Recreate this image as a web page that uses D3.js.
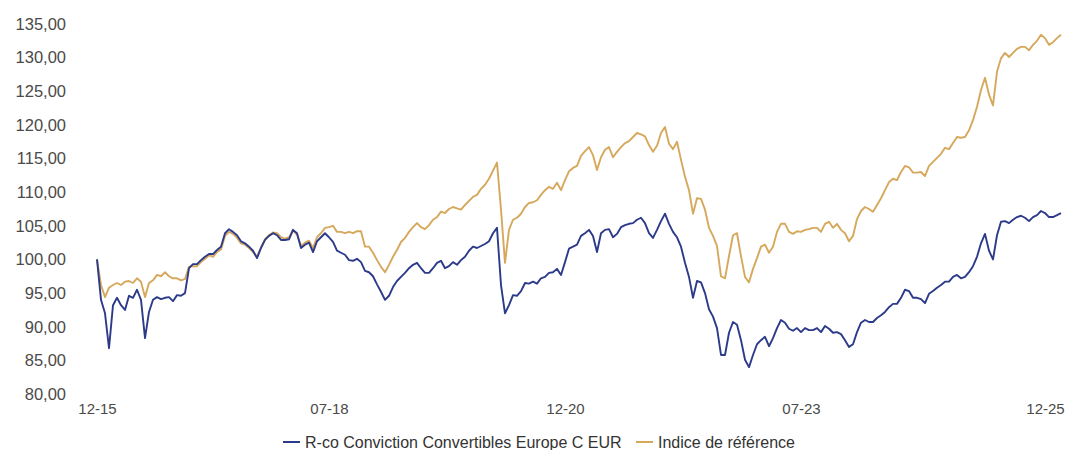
<!DOCTYPE html>
<html>
<head>
<meta charset="utf-8">
<script src="https://cdn.jsdelivr.net/npm/d3@7/dist/d3.min.js"></script>
<style>
  html, body { margin: 0; padding: 0; background: #ffffff; }
  svg { display: block; }
  text { font-family: "Liberation Sans", Arial, sans-serif; }
</style>
</head>
<body>
<svg id="chart" width="1082" height="450"></svg>
<script>
// ---- data ----
const seriesNames = ["R-co Conviction Convertibles Europe C EUR", "Indice de référence"];
const fundValues = [
100.0,94.0,92.0,86.8,93.2,94.3,93.2,92.5,94.6,94.3,95.5,94.0,88.3,92.2,94.0,94.4,94.1,94.3,94.4,93.8,
94.7,94.6,95.0,98.7,99.3,99.3,99.9,100.4,100.8,100.8,101.4,101.9,103.9,104.5,104.1,103.6,102.7,102.4,101.9,101.3,
100.2,101.7,102.9,103.5,103.9,103.6,102.9,102.9,103.0,104.4,103.9,101.7,102.2,102.5,101.1,102.7,103.3,103.9,103.3,102.6,
101.3,101.0,100.7,99.9,99.8,100.1,99.6,98.3,98.1,97.5,96.3,95.2,94.0,94.6,95.9,96.8,97.4,98.0,98.7,99.2,
99.5,98.7,98.0,98.0,98.7,99.5,99.8,98.7,99.0,99.6,99.2,99.9,100.4,101.3,101.9,101.7,102.0,102.3,102.7,103.9,
104.7,96.2,92.0,93.2,94.7,94.6,95.3,96.5,96.4,96.7,96.4,97.2,97.4,98.0,98.1,98.6,97.7,99.6,101.6,101.9,
102.2,103.5,103.9,104.4,103.5,101.1,103.9,104.4,104.5,103.3,103.8,104.8,105.1,105.3,105.4,105.9,106.2,105.4,103.9,103.2,
104.4,105.7,106.8,105.3,104.1,103.3,101.9,99.5,97.4,94.3,96.8,96.6,95.0,92.6,91.5,89.8,85.8,85.8,89.1,90.7,
90.3,88.0,85.1,84.0,85.8,87.4,88.0,88.5,87.1,88.3,89.8,91.0,90.6,89.7,89.4,89.8,89.2,89.8,89.5,89.5,
89.8,89.2,90.1,89.7,89.1,89.2,88.9,88.0,87.0,87.4,89.2,90.6,91.0,90.7,90.7,91.3,91.7,92.2,92.9,93.4,
93.4,94.3,95.5,95.3,94.3,94.3,94.1,93.5,94.9,95.3,95.8,96.2,96.7,96.7,97.4,97.7,97.2,97.4,98.1,99.0,
100.4,102.4,103.8,101.3,100.0,103.6,105.6,105.7,105.4,105.9,106.3,106.5,106.2,105.7,106.3,106.6,107.2,106.9,106.3,106.3,
106.6,106.9
];
const indexValues = [
100.0,96.2,94.4,95.8,96.2,96.5,96.2,96.7,96.8,96.5,97.2,96.7,94.4,96.5,96.9,97.7,97.5,98.1,97.5,97.2,
97.2,96.9,97.1,98.9,99.0,99.0,99.6,100.1,100.6,100.4,101.1,101.5,103.5,104.1,103.8,103.2,102.4,102.2,101.7,101.1,
100.4,101.8,103.0,103.6,104.0,103.9,103.3,103.1,103.3,104.3,103.7,102.0,102.5,102.8,101.7,103.3,103.9,104.7,104.8,105.0,
104.1,104.1,103.9,104.1,103.9,104.2,104.2,101.9,101.9,101.0,99.9,98.9,98.1,99.2,100.4,101.4,102.6,103.2,104.1,104.8,
105.4,104.8,104.5,105.1,105.9,106.3,107.1,106.9,107.5,107.8,107.6,107.4,108.1,108.7,109.3,109.6,110.5,111.1,112.0,113.2,
114.4,107.4,99.5,104.4,105.9,106.2,106.8,107.8,108.4,108.5,108.8,109.6,110.3,110.8,110.5,111.4,110.3,111.8,113.1,113.6,
113.9,115.4,116.1,116.7,115.5,113.3,115.2,116.3,116.7,115.2,116.0,116.7,117.3,117.6,118.2,118.8,118.6,118.3,117.0,116.0,
116.9,118.8,119.7,117.2,116.4,117.5,114.8,112.3,110.3,106.8,109.1,109.0,107.4,104.7,103.5,102.0,97.5,97.2,100.5,103.6,
103.9,100.5,97.4,96.6,98.6,100.2,101.9,102.2,101.0,101.9,104.1,105.3,105.3,104.1,103.8,104.2,104.1,104.4,104.5,104.7,
104.7,104.1,105.3,105.6,104.7,105.3,104.4,103.9,102.7,103.5,106.0,107.2,107.8,107.5,107.1,108.1,109.1,110.3,111.5,112.0,
111.8,113.0,113.9,113.7,112.9,112.9,113.0,112.4,113.9,114.5,115.1,115.7,116.6,116.4,117.3,118.2,118.1,118.2,119.2,120.7,
122.7,125.2,127.0,124.5,122.9,127.9,129.9,130.7,130.1,130.7,131.3,131.6,131.6,131.1,131.9,132.5,133.4,132.9,131.9,132.3,
132.9,133.4
];
const xTickLabels = ["12-15", "07-18", "12-20", "07-23", "12-25"];
const xTickIndex = [0, 58, 117, 176, 237];
const yTicks = [80, 85, 90, 95, 100, 105, 110, 115, 120, 125, 130, 135];

// ---- drawing ----
const colors = ["#2c3a8a", "#d5a85c"];
const svg = d3.select("#chart");
const n = fundValues.length;

const x = d3.scaleLinear().domain([0, n - 1]).range([97, 1061]);
const y = d3.scaleLinear().domain([80, 135]).range([394, 24]);

const fmt = v => d3.format(".2f")(v).replace(".", ",");

const yAxis = svg.append("g")
  .attr("transform", "translate(66,0)")
  .call(d3.axisLeft(y).tickValues(yTicks).tickFormat(fmt).tickSize(0).tickPadding(0));
yAxis.select(".domain").remove();
yAxis.selectAll("text")
  .attr("fill", "#4a4a4a")
  .style("font-size", "16.5px")
  .style("font-family", "'Liberation Sans', Arial, sans-serif");

const xAxis = svg.append("g")
  .attr("transform", "translate(0,403)")
  .call(d3.axisBottom(x).tickValues(xTickIndex)
    .tickFormat((d, i) => xTickLabels[i]).tickSize(0).tickPadding(0));
xAxis.select(".domain").remove();
xAxis.selectAll("text")
  .attr("fill", "#4a4a4a")
  .style("font-size", "15px")
  .style("font-family", "'Liberation Sans', Arial, sans-serif");

const line = d3.line()
  .x((d, i) => x(i))
  .y(d => y(d));

svg.append("path")
  .datum(indexValues)
  .attr("fill", "none")
  .attr("stroke", colors[1])
  .attr("stroke-width", 1.9)
  .attr("stroke-linejoin", "round")
  .attr("d", line);

svg.append("path")
  .datum(fundValues)
  .attr("fill", "none")
  .attr("stroke", colors[0])
  .attr("stroke-width", 1.9)
  .attr("stroke-linejoin", "round")
  .attr("d", line);

// legend
const legend = svg.append("g").attr("transform", "translate(0,442)");
const legendX = [283, 636];
seriesNames.forEach((name, i) => {
  const g = legend.append("g").attr("transform", `translate(${legendX[i]},0)`);
  g.append("line").attr("x1", 0).attr("x2", 17).attr("y1", 0).attr("y2", 0)
    .attr("stroke", colors[i]).attr("stroke-width", 2);
  g.append("text").attr("x", 22).attr("y", 0).attr("dy", "0.35em")
    .attr("fill", "#333333")
    .style("font-size", "16px")
    .style("font-family", "'Liberation Sans', Arial, sans-serif")
    .text(name);
});
</script>
</body>
</html>
